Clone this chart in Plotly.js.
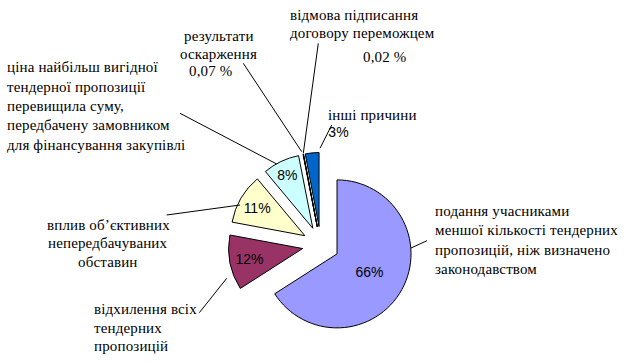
<!DOCTYPE html>
<html>
<head>
<meta charset="utf-8">
<script src="https://cdn.plot.ly/plotly-3.0.1.min.js"></script>
<style>
html,body{margin:0;padding:0;background:#fff;}
#chart{width:625px;height:363px;}
.annotation-text{font-family:"Liberation Serif","Times New Roman",serif !important;letter-spacing:0.15px;}
.annotation.sansnote .annotation-text{font-family:"Liberation Sans",Arial,sans-serif !important;letter-spacing:0;}
</style>
</head>
<body>
<div id="chart"></div>
<script>
// ---- data ----
var categories = [
  'подання учасниками меншої кількості тендерних пропозицій, ніж визначено законодавством',
  'відхилення всіх тендерних пропозицій',
  'вплив об’єктивних непередбачуваних обставин',
  'ціна найбільш вигідної тендерної пропозиції перевищила суму, передбачену замовником для фінансування закупівлі',
  'результати оскарження',
  'відмова підписання договору переможцем',
  'інші причини'
];
var values = [66, 12, 11, 8, 0.07, 0.02, 3];
var valueLabels = ['66%', '12%', '11%', '8%', '0,07 %', '0,02 %', '3%'];
var labelLines = [
  ['подання учасниками', 'меншої кількості тендерних', 'пропозицій, ніж визначено', 'законодавством'],
  ['відхилення всіх', 'тендерних', 'пропозицій'],
  ['вплив об’єктивних', 'непередбачуваних', 'обставин'],
  ['ціна найбільш вигідної', 'тендерної пропозиції', 'перевищила суму,', 'передбачену замовником', 'для фінансування закупівлі'],
  ['результати', 'оскарження'],
  ['відмова підписання', 'договору переможцем'],
  ['інші причини']
];
var colors = ['#9999FF', '#993366', '#FFFFCC', '#CCFFFF', '#660066', '#FF8080', '#0066CC'];

// ---- layout helpers (pixel -> paper) ----
var W = 625, H = 363;
function px(x) { return x / W; }
function py(y) { return 1 - y / H; }

var insideText = valueLabels.map(function (t, i) { return i < 4 ? t : ''; });

// label placement (pixels): [x, firstLineY, xanchor, lineStep]
var labelPos = [
  [433, 211, 'left', 19.4],
  [92, 309, 'left', 18.5],
  [108, 225, 'center', 18.5],
  [5, 67.3, 'left', 19.3],
  [218.5, 36, 'center', 18],
  [288, 15, 'left', 18.3],
  [326, 115, 'left', 18]
];
// value text placement for outside-labelled slices: index -> [x, y, xanchor, font]
var valuePos = {4: [187, 71, 'left', 'serif'], 5: [361, 57, 'left', 'serif'], 6: [327, 132, 'left', 'sans']};
// leader lines (pixels)
var leaders = [
  [411, 248, 427, 240.7],
  [226.7, 278.3, 199.3, 312.7],
  [240, 205, 166.7, 215],
  [276.7, 164, 180, 113.3],
  [301.7, 151.7, 243.3, 63.3],
  [303.3, 153.3, 318.3, 43.3],
  [320, 148.3, 331.7, 125]
];

var serif = {family: 'Liberation Serif', size: 15, color: '#000'};
var sans = {family: 'Liberation Sans', size: 14, color: '#000'};

var annotations = [];
var sansIdx = [];
labelLines.forEach(function (lines, i) {
  var p = labelPos[i];
  lines.forEach(function (ln, j) {
    annotations.push({
      xref: 'paper', yref: 'paper', x: px(p[0]), y: py(p[1] + j * p[3]),
      xanchor: p[2], yanchor: 'middle', text: ln, showarrow: false, font: serif
    });
  });
});
Object.keys(valuePos).forEach(function (k) {
  var v = valuePos[k];
  if (v[3] !== 'serif') sansIdx.push(annotations.length);
  annotations.push({
    xref: 'paper', yref: 'paper', x: px(v[0]), y: py(v[1]),
    xanchor: v[2], yanchor: 'middle', text: valueLabels[k], showarrow: false,
    font: v[3] === 'serif' ? serif : sans
  });
});

var shapes = leaders.map(function (l) {
  return {type: 'line', xref: 'paper', yref: 'paper',
    x0: px(l[0]), y0: py(l[1]), x1: px(l[2]), y1: py(l[3]),
    line: {color: '#000', width: 1}};
});

// pie domain: center (320.8, 245), half-size 92.5 px
var cx = 320.8, cy = 245, hs = 92.5;

var trace = {
  type: 'pie',
  labels: categories,
  values: values,
  text: insideText,
  textinfo: 'text',
  texttemplate: '%{text}',
  textposition: 'inside',
  insidetextorientation: 'horizontal',
  insidetextfont: {family: 'Liberation Sans', size: 14, color: '#000'},
  sort: false,
  direction: 'clockwise',
  rotation: 0,
  pull: values.map(function () { return 0.25; }),
  marker: {colors: colors, line: {color: '#000', width: 1}},
  domain: {x: [px(cx - hs), px(cx + hs)], y: [py(cy + hs), py(cy - hs)]},
  hoverinfo: 'label+percent'
};

var layout = {
  width: W, height: H,
  margin: {l: 0, r: 0, t: 0, b: 0},
  paper_bgcolor: '#fff',
  showlegend: false,
  annotations: annotations,
  shapes: shapes
};

function markSans() {
  var groups = document.querySelectorAll('#chart .annotation');
  groups.forEach(function (g) {
    var idx = parseInt(g.getAttribute('data-index'), 10);
    if (sansIdx.indexOf(idx) >= 0) g.classList.add('sansnote');
  });
}

Plotly.newPlot('chart', [trace], layout, {displayModeBar: false, staticPlot: true}).then(markSans);
</script>
</body>
</html>
